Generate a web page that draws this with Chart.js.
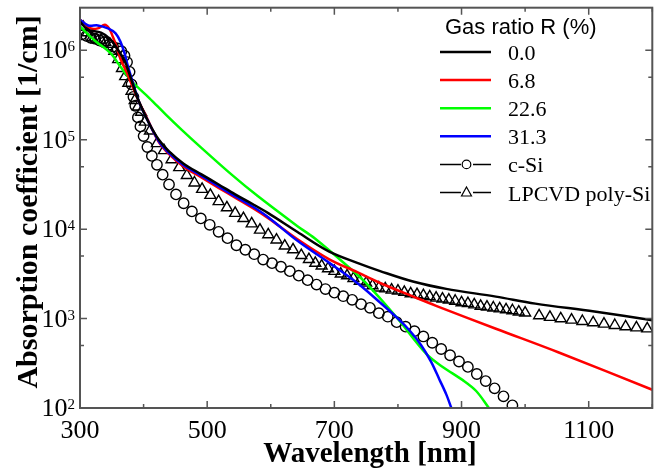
<!DOCTYPE html>
<html lang="en">
<head>
<meta charset="UTF-8">
<title>Absorption coefficient vs wavelength</title>
<script src="https://cdn.jsdelivr.net/npm/chart.js"></script>
<style>
  html, body { margin: 0; padding: 0; overflow: hidden; background: #fff; }
  #wrap { width: 660px; height: 468px; }
</style>
</head>
<body>
<div id="wrap"><canvas id="absChart" width="660" height="468"></canvas></div>
<script>
// gas ratio R = 0.0 %
const lambdaR00 = [300, 312, 333, 348, 359, 370, 378, 386, 393, 409, 424, 440, 463, 491, 518, 544, 572, 596, 642, 692, 736, 772, 825, 876, 954, 1016, 1109, 1200];
const alphaR00 = [2.1e6, 1.71e6, 1.58e6, 1.33e6, 1.03e6, 7.7e5, 5.4e5, 3.6e5, 2.64e5, 1.51e5, 1.0e5, 7.4e4, 5.4e4, 4.1e4, 3.16e4, 2.45e4, 1.9e4, 1.51e4, 9.3e3, 5.6e3, 4.2e3, 3.4e3, 2.58e3, 2.15e3, 1.76e3, 1.47e3, 1.2e3, 9.6e2];
// R = 6.8 %
const lambdaR68 = [300, 317, 328, 339, 346, 352, 358, 364, 372, 381, 393, 406, 424, 440, 463, 491, 518, 544, 572, 596, 642, 692, 736, 772, 825, 860, 954, 1052, 1200];
const alphaR68 = [2.2e6, 1.76e6, 1.76e6, 1.94e6, 1.75e6, 1.4e6, 1.08e6, 7.9e5, 6.0e5, 4.2e5, 2.64e5, 1.71e5, 9.4e4, 6.9e4, 5.0e4, 3.8e4, 2.9e4, 2.25e4, 1.72e4, 1.33e4, 7.7e3, 4.6e3, 3.3e3, 2.5e3, 1.75e3, 1.39e3, 7.7e2, 4.2e2, 1.6e2];
// R = 22.6 %
const lambdaR226 = [300, 323, 348, 364, 383, 409, 435, 460, 487, 538, 580, 642, 669, 720, 751, 798, 845, 871, 902, 923, 943];
const alphaR226 = [1.85e6, 1.29e6, 9.3e5, 6.5e5, 4.4e5, 2.93e5, 1.91e5, 1.29e5, 8.6e4, 4.1e4, 2.33e4, 1.08e4, 7.9e3, 3.9e3, 2.45e3, 1.03e3, 4.0e2, 2.86e2, 2.05e2, 1.55e2, 1.0e2];
// R = 31.3 %
const lambdaR313 = [300, 313, 328, 344, 356, 364, 370, 375, 381, 393, 406, 424, 440, 463, 491, 518, 544, 572, 596, 642, 692, 736, 772, 800, 818, 836, 852, 865, 876, 884];
const alphaR313 = [2.2e6, 1.9e6, 1.9e6, 1.76e6, 1.55e6, 1.23e6, 9.3e5, 6.8e5, 4.9e5, 2.64e5, 1.67e5, 9.6e4, 7.1e4, 5.2e4, 3.95e4, 3.0e4, 2.33e4, 1.78e4, 1.36e4, 7.4e3, 4.2e3, 2.5e3, 1.51e3, 1.0e3, 7.4e2, 5.1e2, 3.3e2, 2.1e2, 1.42e2, 1.0e2];

// c-Si reference
const lambdaCSi = [303, 310, 317, 324, 331, 338, 345, 352, 359, 365, 370, 374, 378, 381, 384, 387, 391, 395, 400, 406,
  413, 421, 430, 440, 451, 463, 476, 490, 504, 518, 532, 546, 560, 574, 588, 602, 616, 630, 644, 658,
  672, 686, 700, 714, 728, 742, 756, 770, 784, 798, 812, 826, 840, 854, 868, 882, 896, 910, 924, 938,
  952, 966, 980];
const alphaCSi = [1.51e6, 1.45e6, 1.38e6, 1.35e6, 1.29e6, 1.23e6, 1.15e6, 1.10e6, 1.05e6, 9.8e5, 8.7e5, 7.4e5, 5.75e5, 4.17e5, 3.02e5, 2.4e5, 1.78e5, 1.41e5, 1.10e5, 8.3e4,
  6.6e4, 5.25e4, 4.07e4, 3.16e4, 2.45e4, 1.95e4, 1.58e4, 1.32e4, 1.12e4, 9330, 7940, 6610, 5890, 5250, 4570, 4170, 3800, 3390, 3020, 2690,
  2400, 2140, 1950, 1780, 1620, 1450, 1320, 1150, 1050, 912, 813, 724, 631, 537, 457, 389, 331, 288, 240, 200,
  166, 135, 107];

// LPCVD poly-Si reference
const lambdaPoly = [305, 312, 319, 326, 333, 340, 347, 354, 360, 366, 371, 376, 381, 386, 391, 396, 402,
  410, 421, 432, 444, 456, 468, 480, 492, 505, 518, 531, 544, 557, 570, 583, 596, 609, 622, 635, 648, 660,
  670, 680, 690, 700, 710, 720, 730, 740, 750, 760, 770, 780, 790, 800, 810, 820, 830, 840, 850, 860, 870,
  880, 890, 900, 910, 920, 930, 940, 950, 960, 970, 980, 990, 1000,
  1022, 1039, 1056, 1073, 1090, 1107, 1124, 1141, 1158, 1175, 1192];
const alphaPoly = [1.82e6, 1.58e6, 1.38e6, 1.32e6, 1.29e6, 1.23e6, 1.17e6, 9.8e5, 7.9e5, 6.3e5, 5.1e5, 4.3e5, 3.5e5, 2.75e5, 2.34e5, 2.04e5, 1.58e5,
  1.26e5, 9.1e4, 7.6e4, 6.0e4, 4.9e4, 4.0e4, 3.3e4, 2.8e4, 2.4e4, 2.04e4, 1.74e4, 1.51e4, 1.32e4, 1.15e4, 9800, 8700, 7600, 6500, 5900, 5100, 4600,
  4170, 3890, 3630, 3390, 3160, 3020, 2820, 2630, 2510, 2340, 2210, 2160, 2090, 2040, 1970, 1900, 1860, 1820, 1760, 1700, 1660,
  1620, 1570, 1510, 1480, 1430, 1380, 1350, 1320, 1290, 1260, 1230, 1190, 1160,
  1080, 1035, 1000, 966, 933, 902, 871, 841, 813, 791, 771];

const seriesLabels = ['0.0', '6.8', '22.6', '31.3', 'c-Si', 'LPCVD poly-Si'];
const xMajorTicks = [300, 500, 700, 900, 1100];
const xMinorTicks = [400, 600, 800, 1000, 1200];
const yDecades = [2, 3, 4, 5, 6];

const SERIF = '"Liberation Serif", "Times New Roman", serif';
const SANS = '"Liberation Sans", Arial, sans-serif';

function pts(xs, ys) {
  return xs.map((v, i) => ({ x: v, y: ys[i] }));
}

function lineSet(label, xs, ys, color, order) {
  return {
    label: label,
    data: pts(xs, ys),
    borderColor: color,
    backgroundColor: color,
    borderWidth: 2.5,
    pointRadius: 0,
    fill: false,
    tension: 0.35,
    order: order
  };
}

function markerSet(label, xs, ys, style, radius, order) {
  return {
    label: label,
    data: pts(xs, ys),
    showLine: false,
    pointStyle: style,
    pointRadius: radius,
    pointBorderWidth: 1.4,
    pointBorderColor: '#000',
    pointBackgroundColor: 'rgba(0,0,0,0)',
    borderColor: '#000',
    order: order
  };
}

// frame, ticks, tick labels, axis titles and legend
const decorations = {
  id: 'decorations',
  afterDraw(chart) {
    const { ctx, chartArea: a } = chart;
    const xs = chart.scales.x, ys = chart.scales.y;
    const ds = chart.data.datasets;
    ctx.save();

    // frame
    ctx.strokeStyle = '#555';
    ctx.lineWidth = 2;
    ctx.strokeRect(a.left, a.top, a.right - a.left, a.bottom - a.top);

    // ticks (inward, mirrored)
    ctx.lineWidth = 1.5;
    ctx.beginPath();
    const vTick = (v, len) => {
      const p = xs.getPixelForValue(v);
      ctx.moveTo(p, a.bottom); ctx.lineTo(p, a.bottom - len);
      ctx.moveTo(p, a.top); ctx.lineTo(p, a.top + len);
    };
    const hTick = (v, len) => {
      const p = ys.getPixelForValue(v);
      ctx.moveTo(a.left, p); ctx.lineTo(a.left + len, p);
      ctx.moveTo(a.right, p); ctx.lineTo(a.right - len, p);
    };
    xMajorTicks.forEach(v => vTick(v, 7));
    xMinorTicks.forEach(v => vTick(v, 4));
    yDecades.forEach(e => {
      hTick(Math.pow(10, e), 7);
      if (Math.pow(10, e) * 5 < ys.max) hTick(Math.pow(10, e) * 5, 4);
    });
    ctx.stroke();

    // tick labels
    ctx.fillStyle = '#000';
    ctx.font = '26px ' + SERIF;
    ctx.textAlign = 'center';
    ctx.textBaseline = 'alphabetic';
    xMajorTicks.forEach(v => ctx.fillText(String(v), xs.getPixelForValue(v), 438));

    yDecades.forEach(e => {
      const p = ys.getPixelForValue(Math.pow(10, e));
      ctx.font = '15px ' + SERIF;
      const sw = ctx.measureText(String(e)).width;
      ctx.textAlign = 'left';
      ctx.fillText(String(e), 75 - sw, p + 1);
      ctx.font = '26px ' + SERIF;
      ctx.textAlign = 'right';
      ctx.fillText('10', 75 - sw, p + 8);
    });

    // axis titles
    ctx.font = 'bold 29px ' + SERIF;
    ctx.textAlign = 'center';
    ctx.fillText('Wavelength [nm]', 370, 462);
    ctx.save();
    ctx.translate(37, 202);
    ctx.rotate(-Math.PI / 2);
    ctx.font = 'bold 30px ' + SERIF;
    ctx.fillText('Absorption coefficient [1/cm]', 0, 0);
    ctx.restore();

    // legend
    ctx.textAlign = 'left';
    ctx.font = '22px ' + SANS;
    ctx.fillText('Gas ratio R (%)', 445, 34);
    ctx.font = '22px ' + SERIF;
    seriesLabels.forEach((lab, i) => {
      const d = ds[i];
      const yy = 52 + i * 28.1;
      if (d.showLine === false) {
        ctx.strokeStyle = '#000';
        ctx.lineWidth = 1.5;
        ctx.beginPath();
        ctx.moveTo(440, yy); ctx.lineTo(461, yy);
        ctx.moveTo(473, yy); ctx.lineTo(491, yy);
        ctx.stroke();
        ctx.lineWidth = 1.2;
        ctx.beginPath();
        if (d.pointStyle === 'circle') {
          ctx.arc(466.5, yy, 4.3, 0, Math.PI * 2);
        } else {
          ctx.moveTo(466.5, yy - 5.5);
          ctx.lineTo(471.5, yy + 3.5);
          ctx.lineTo(461.5, yy + 3.5);
          ctx.closePath();
        }
        ctx.stroke();
      } else {
        ctx.strokeStyle = d.borderColor;
        ctx.lineWidth = 2.5;
        ctx.beginPath();
        ctx.moveTo(440, yy); ctx.lineTo(491, yy);
        ctx.stroke();
      }
      ctx.fillStyle = '#000';
      ctx.fillText(lab, 508, yy + 8);
    });
    ctx.restore();
  }
};

const ctx = document.getElementById('absChart').getContext('2d');
new Chart(ctx, {
  type: 'line',
  data: {
    datasets: [
      lineSet(seriesLabels[0], lambdaR00, alphaR00, '#000000', 1),
      lineSet(seriesLabels[1], lambdaR68, alphaR68, '#ff0000', 3),
      lineSet(seriesLabels[2], lambdaR226, alphaR226, '#00ff00', 4),
      lineSet(seriesLabels[3], lambdaR313, alphaR313, '#0000ff', 2),
      markerSet(seriesLabels[4], lambdaCSi, alphaCSi, 'circle', 5.2, 5),
      markerSet(seriesLabels[5], lambdaPoly, alphaPoly, 'triangle', 6.3, 6)
    ]
  },
  options: {
    responsive: false,
    animation: false,
    devicePixelRatio: 1,
    layout: { padding: { left: 80, right: 1, top: 5, bottom: 60 } },
    plugins: { legend: { display: false }, tooltip: { enabled: false } },
    scales: {
      x: { type: 'linear', min: 300, max: 1200, display: false },
      y: { type: 'logarithmic', min: 100, max: 3e6, display: false }
    }
  },
  plugins: [decorations]
});
</script>
</body>
</html>
